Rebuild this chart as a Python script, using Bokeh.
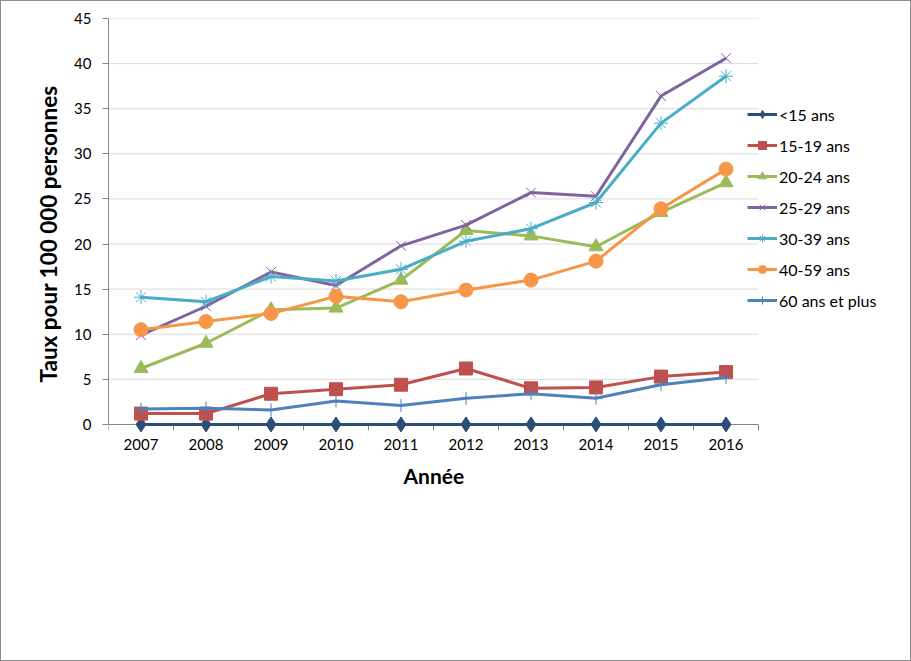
from bokeh.plotting import figure
from bokeh.models import Legend, LegendItem, FixedTicker, Range1d, Title
from bokeh.embed import file_html
from bokeh.resources import INLINE

years = [2007, 2008, 2009, 2010, 2011, 2012, 2013, 2014, 2015, 2016]
year_labels = [str(y) for y in years]
y_ticks = [0, 5, 10, 15, 20, 25, 30, 35, 40, 45]

names = ["<15 ans", "15-19 ans", "20-24 ans", "25-29 ans", "30-39 ans", "40-59 ans", "60 ans et plus"]
v_lt15 = [0, 0, 0, 0, 0, 0, 0, 0, 0, 0]
v_15_19 = [1.2, 1.2, 3.4, 3.9, 4.4, 6.2, 4.0, 4.1, 5.3, 5.8]
v_20_24 = [6.2, 9.0, 12.7, 12.9, 16.0, 21.5, 20.9, 19.7, 23.5, 26.8]
v_25_29 = [9.9, 13.1, 16.9, 15.4, 19.8, 22.1, 25.7, 25.3, 36.4, 40.6]
v_30_39 = [14.1, 13.6, 16.4, 15.9, 17.2, 20.3, 21.7, 24.6, 33.4, 38.6]
v_40_59 = [10.5, 11.4, 12.3, 14.2, 13.6, 14.9, 16.0, 18.1, 23.9, 28.3]
v_60p = [1.7, 1.8, 1.6, 2.6, 2.1, 2.9, 3.4, 2.9, 4.4, 5.2]

series = [v_lt15, v_15_19, v_20_24, v_25_29, v_30_39, v_40_59, v_60p]
colors = ["#2C4D75", "#C0504D", "#9BBB59", "#8064A2", "#4BACC6", "#F79646", "#4F81BD"]
markers = ["diamond", "square", "triangle", "x", "asterisk", "circle", "cross"]
msizes = [15, 13, 14, 14, 14, 14, 13]
filled = [True, True, True, False, False, True, False]

FONT = "Lato"
x_lo = years[0] - 0.5
x_hi = years[-1] + 0.5

# frame widened to the right (legend area) and downward (tick labels area) so nothing is clipped;
# axis and gridlines are limited to the data span
p = figure(width=911, height=661, output_backend="svg", toolbar_location=None,
           x_range=Range1d(x_lo, x_hi + 2), y_range=Range1d(-4, 45),
           min_border_left=107, min_border_right=24, min_border_top=17, min_border_bottom=202,
           background_fill_color="white", border_fill_color="white")
p.styles = {"border": "1px solid #8C8C8C", "box-sizing": "border-box"}
p.outline_line_color = None

grid_y = [t for t in y_ticks if t > 0]
p.segment(x0=[x_lo] * len(grid_y), y0=grid_y, x1=[x_hi] * len(grid_y), y1=grid_y,
          line_color="#D9D9D9", line_width=1)
p.xgrid.grid_line_color = None
p.ygrid.grid_line_color = None

# x axis at y=0, ticks at category boundaries
p.xaxis.fixed_location = 0
p.xaxis.level = "underlay"
p.xaxis.bounds = (x_lo, x_hi)
p.xaxis.ticker = FixedTicker(ticks=years, minor_ticks=[y - 0.5 for y in years] + [x_hi])
p.xaxis.major_label_overrides = {y: s for y, s in zip(years, year_labels)}
p.xaxis.major_tick_line_color = None
p.xaxis.major_tick_out = 6
p.xaxis.major_tick_in = 0
p.xaxis.minor_tick_out = 6
p.xaxis.minor_tick_in = 0
p.xaxis.minor_tick_line_color = "#868686"
p.xaxis.axis_line_color = "#868686"
p.xaxis.major_label_standoff = 9

# y axis
p.yaxis.bounds = (0, 45)
p.yaxis.ticker = FixedTicker(ticks=y_ticks)
p.yaxis.major_tick_out = 6
p.yaxis.major_tick_in = 0
p.yaxis.minor_tick_line_color = None
p.yaxis.major_tick_line_color = "#868686"
p.yaxis.axis_line_color = "#868686"
p.yaxis.major_label_standoff = 11

for ax in (p.xaxis, p.yaxis):
    ax.major_label_text_font = FONT
    ax.major_label_text_font_size = "15px"
    ax.major_label_text_color = "#000000"

xtitle = Title(text="Année", align="left", offset=295, standoff=0,
               text_font=FONT, text_font_size="21px", text_font_style="bold", text_color="#000000")
p.add_layout(xtitle, "below")
ytitle = Title(text="Taux pour 100 000 personnes", align="left", offset=78, standoff=20,
               text_font=FONT, text_font_size="22.5px", text_font_style="bold", text_color="#000000")
p.add_layout(ytitle, "left")

items = []
for name, vals, c, m, s, f in zip(names, series, colors, markers, msizes, filled):
    ln = p.line(years, vals, line_color=c, line_width=3)
    sc = p.scatter(years, vals, marker=m, size=s,
                   fill_color=c if f else None, line_color=c, line_width=1)
    items.append(LegendItem(label=name, renderers=[ln, sc]))

legend = Legend(items=items, location=(639, 150), padding=0, margin=0,
                spacing=11, glyph_width=30, glyph_height=20, label_height=20,
                label_standoff=2, border_line_color=None, background_fill_alpha=0,
                label_text_font=FONT, label_text_font_size="16px", label_text_color="#000000")
p.add_layout(legend, "center")

open("out.html", "w").write(file_html(p, INLINE))
